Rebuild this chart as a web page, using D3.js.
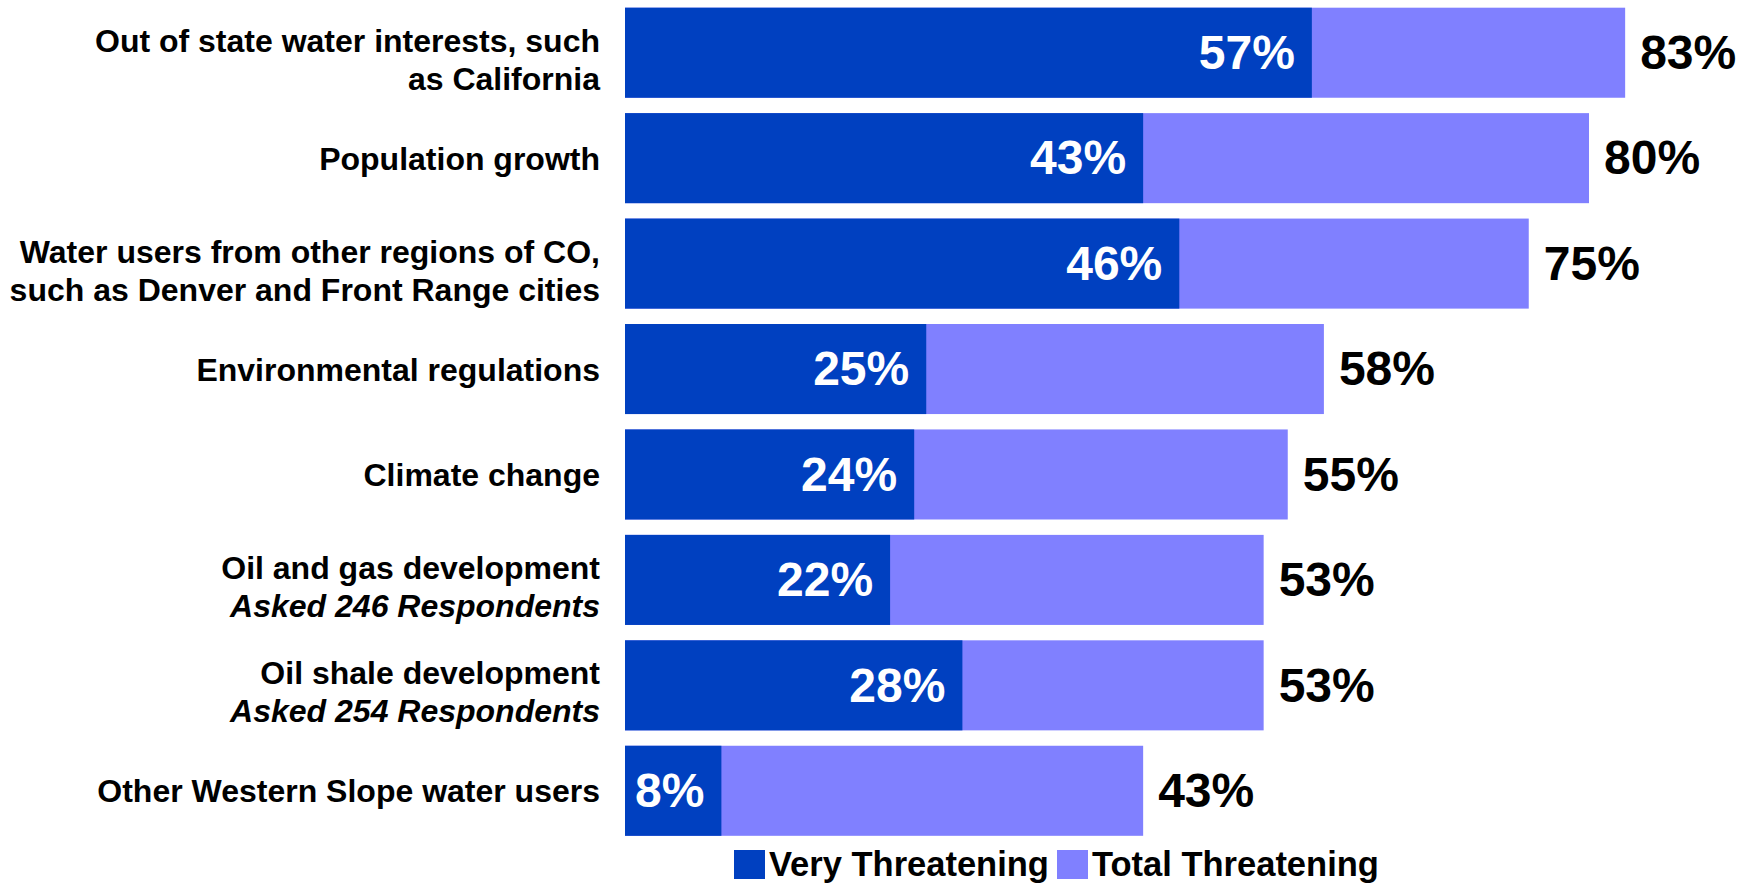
<!DOCTYPE html>
<html>
<head>
<meta charset="utf-8">
<script src="https://cdn.jsdelivr.net/npm/d3@7"></script>
<style>
  body { margin: 0; background: #fff; }
  svg { font-family: "Liberation Sans", Arial, sans-serif; font-weight: bold; }
</style>
</head>
<body>
<script>
// categories (each is a list of label lines; italic second lines are notes)
var categories = [
  ["Out of state water interests, such", "as California"],
  ["Population growth"],
  ["Water users from other regions of CO,", "such as Denver and Front Range cities"],
  ["Environmental regulations"],
  ["Climate change"],
  ["Oil and gas development", "*Asked 246 Respondents"],
  ["Oil shale development", "*Asked 254 Respondents"],
  ["Other Western Slope water users"]
];
var veryThreatening = [57, 43, 46, 25, 24, 22, 28, 8];
var totalThreatening = [83, 80, 75, 58, 55, 53, 53, 43];
var seriesNames = ["Very Threatening", "Total Threatening"];
var colors = ["#0040C0", "#8080FF"];

var width = 1749, height = 883;

var data = categories.map(function(c, i) {
  return {key: i, lines: c, very: veryThreatening[i], total: totalThreatening[i]};
});

var svg = d3.select("body").append("svg")
    .attr("width", width)
    .attr("height", height);

// scales
var x = d3.scaleLinear().domain([0, 100]).range([625, 1830]);
var y = d3.scaleBand()
    .domain(data.map(function(d) { return d.key; }))
    .range([0, 843.5])
    .paddingInner(0.146)
    .paddingOuter(0.073);

// total bars (behind)
svg.selectAll(".total")
    .data(data)
    .enter().append("rect")
    .attr("class", "total")
    .attr("x", x(0))
    .attr("y", function(d) { return y(d.key); })
    .attr("width", function(d) { return x(d.total) - x(0); })
    .attr("height", y.bandwidth())
    .attr("fill", colors[1]);

// very threatening bars
svg.selectAll(".very")
    .data(data)
    .enter().append("rect")
    .attr("class", "very")
    .attr("x", x(0))
    .attr("y", function(d) { return y(d.key); })
    .attr("width", function(d) { return x(d.very) - x(0); })
    .attr("height", y.bandwidth())
    .attr("fill", colors[0]);

// value labels inside dark bars
svg.selectAll(".vlab")
    .data(data)
    .enter().append("text")
    .attr("x", function(d) { return x(d.very) - 17; })
    .attr("y", function(d) { return y(d.key) + y.bandwidth() / 2; })
    .attr("dy", "0.34em")
    .attr("text-anchor", "end")
    .style("font-size", "48px")
    .style("fill", "#fff")
    .text(function(d) { return d.very + "%"; });

// total labels after bars
svg.selectAll(".tlab")
    .data(data)
    .enter().append("text")
    .attr("x", function(d) { return x(d.total) + 15; })
    .attr("y", function(d) { return y(d.key) + y.bandwidth() / 2; })
    .attr("dy", "0.34em")
    .style("font-size", "48px")
    .style("fill", "#000")
    .text(function(d) { return d.total + "%"; });

// category labels
var lineH = 38;
var cat = svg.selectAll(".cat")
    .data(data)
    .enter().append("text")
    .attr("class", "cat")
    .attr("text-anchor", "end")
    .style("font-size", "32px")
    .style("fill", "#000");

cat.each(function(d) {
  var t = d3.select(this);
  var n = d.lines.length;
  var cy = y(d.key) + y.bandwidth() / 2 + (n > 1 ? 6.5 : 0);
  d.lines.forEach(function(line, j) {
    var italic = line.charAt(0) === "*";
    t.append("tspan")
      .attr("x", 600)
      .attr("y", cy + (j - (n - 1) / 2) * lineH)
      .attr("dy", "0.36em")
      .style("font-style", italic ? "italic" : "normal")
      .text(italic ? line.slice(1) : line);
  });
});

// legend
var legend = svg.append("g");
var lx = [734, 1057];
seriesNames.forEach(function(name, i) {
  legend.append("rect")
    .attr("x", lx[i])
    .attr("y", 850)
    .attr("width", 31)
    .attr("height", 29)
    .attr("fill", colors[i]);
  legend.append("text")
    .attr("x", lx[i] + 35)
    .attr("y", 864)
    .attr("dy", "0.36em")
    .style("font-size", "34.5px")
    .style("fill", "#000")
    .text(name);
});
</script>
</body>
</html>
